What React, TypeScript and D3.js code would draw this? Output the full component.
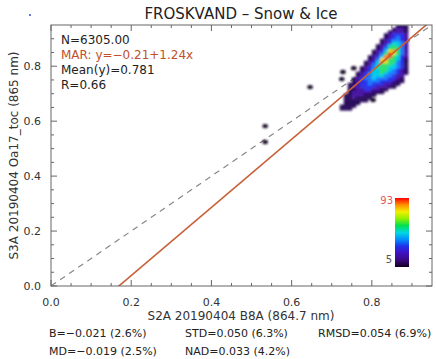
import React from "react";
import * as d3 from "d3";

// ---- data ----
const titleText = "FROSKVAND – Snow & Ice";
const xTitle = "S2A 20190404 B8A (864.7 nm)";
const yTitle = "S3A 20190404 Oa17_toc (865 nm)";
const axisMax = 0.95;
const majorTicks = [0, 0.2, 0.4, 0.6, 0.8];
const majorTickLabels = ["0.0", "0.2", "0.4", "0.6", "0.8"];
const minorTicks = [0.05, 0.1, 0.15, 0.25, 0.3, 0.35, 0.45, 0.5, 0.55, 0.65, 0.7, 0.75, 0.85, 0.9];

const infoLines = ["N=6305.00", "MAR: y=−0.21+1.24x", "Mean(y)=0.781", "R=0.66"];
const marIntercept = -0.21;
const marSlope = 1.24;

const statsRow1 = ["B=−0.021 (2.6%)", "STD=0.050 (6.3%)", "RMSD=0.054 (6.9%)"];
const statsRow2 = ["MD=−0.019 (2.5%)", "NAD=0.033 (4.2%)"];

const colorbarMin = 5;
const colorbarMax = 93;

// density grid: bins of 0.01, first column starts at x=0.71, first row tops at y=0.95
const densityX0 = 0.71;
const densityYTop = 0.95;
const densityBin = 0.01;
const densityRows = [
  "0000000000000001110",
  "0000000000000012210",
  "0000000000000122210",
  "0000000000001233320",
  "0000000000001234320",
  "0000000000012344320",
  "0000000000012355420",
  "0000000000123565420",
  "0000000000124666420",
  "0000000001235786420",
  "0000000001246976420",
  "0000000012358965320",
  "0000000012478665310",
  "0000000123587664310",
  "0000000124566654310",
  "0000001234666554310",
  "0000001235566543210",
  "0000012345565443210",
  "0000012345554432200",
  "0000123445444332100",
  "0000123344433321100",
  "0001123343332211000",
  "0001223333222110000",
  "0001122332211000000",
  "0001222221110000000",
  "0011222111000000000",
  "0011211110000000000",
  "0011111100000000000",
  "0011110000000000000",
  "0111100000000000000",
  "0111000000000000000",
];

const outlierX = [0.728, 0.725, 0.755, 0.646, 0.534, 0.534, 0.803];
const outlierY = [0.779, 0.753, 0.793, 0.724, 0.582, 0.524, 0.677];

const levelColors = [
  "none",
  "#2a0a5c",
  "#4a12a6",
  "#2a30e8",
  "#1c7cff",
  "#00cce6",
  "#2ee070",
  "#e6e400",
  "#ff8a00",
  "#ff2000",
];

const colorbarStops = [
  "#12001e",
  "#3a0a80",
  "#4010c0",
  "#2030e8",
  "#0090ff",
  "#00d8e0",
  "#00e050",
  "#90f000",
  "#f0f000",
  "#ff9000",
  "#ff0000",
];

export default function App() {
  const W = 436;
  const H = 359;
  const left = 51, right = 432, top = 25, bottom = 286;
  const x = d3.scaleLinear().domain([0, axisMax]).range([left, right]);
  const y = d3.scaleLinear().domain([0, axisMax]).range([bottom, top]);
  const font = "DejaVu Sans, sans-serif";
  const frame = "#666";

  const cells: { cx: number; cy: number; lv: number }[] = [];
  densityRows.forEach((row, r) => {
    for (let c = 0; c < row.length; c++) {
      const lv = +row[c];
      if (lv > 0) cells.push({ cx: densityX0 + c * densityBin, cy: densityYTop - (r + 1) * densityBin, lv });
    }
  });
  const cw = x(densityBin) - x(0);
  const ch = y(0) - y(densityBin);

  const marLine = d3.line<number>().x((d) => x(d)).y((d) => y(marIntercept + marSlope * d));
  const oneLine = d3.line<number>().x((d) => x(d)).y((d) => y(d));

  const cbX = 395, cbY = 198, cbW = 14, cbH = 69;

  const majLen = 6, minLen = 3;

  return (
    <svg width={W} height={H} style={{ position: "absolute", left: 0, top: 0, background: "#fff" }} fontFamily={font}>
      <defs>
        <clipPath id="plotclip">
          <rect x={left} y={top} width={right - left} height={bottom - top} />
        </clipPath>
        <filter id="soft" x="-10%" y="-10%" width="120%" height="120%">
          <feGaussianBlur stdDeviation={0.8} />
        </filter>
        <linearGradient id="cbgrad" x1="0" y1="1" x2="0" y2="0">
          {colorbarStops.map((c, i) => (
            <stop key={i} offset={i / (colorbarStops.length - 1)} stopColor={c} />
          ))}
        </linearGradient>
      </defs>
      <rect width={W} height={H} fill="#fff" />
      <circle cx={30} cy={15} r={1} fill="#3a48c8" />
      <text x={241} y={19} textAnchor="middle" fontSize={15} fill="#222">{titleText}</text>

      <g clipPath="url(#plotclip)">
        <path d={oneLine([0, axisMax]) || ""} stroke="#888" strokeWidth={1.2} strokeDasharray="6,5" fill="none" />
        <g filter="url(#soft)">
          {cells.map((d, i) => (
            <rect key={i} x={x(d.cx)} y={y(d.cy + densityBin)} width={cw + 0.4} height={ch + 0.4} fill={levelColors[d.lv]} />
          ))}
          {outlierX.map((v, i) => (
            <ellipse key={i} cx={x(v)} cy={y(outlierY[i])} rx={2.8} ry={2.2} fill="#1a0828" />
          ))}
        </g>
        <path d={marLine([0, axisMax]) || ""} stroke="#c8603a" strokeWidth={1.6} fill="none" />
      </g>

      <rect x={left} y={top} width={right - left} height={bottom - top} fill="none" stroke={frame} strokeWidth={1} />
      {majorTicks.map((t, i) => (
        <g key={"maj" + i} stroke={frame} strokeWidth={1}>
          <line x1={x(t)} x2={x(t)} y1={bottom} y2={bottom - majLen} />
          <line x1={x(t)} x2={x(t)} y1={top} y2={top + majLen} />
          <line x1={left} x2={left + majLen} y1={y(t)} y2={y(t)} />
          <line x1={right} x2={right - majLen} y1={y(t)} y2={y(t)} />
        </g>
      ))}
      {minorTicks.map((t, i) => (
        <g key={"min" + i} stroke={frame} strokeWidth={1}>
          <line x1={x(t)} x2={x(t)} y1={bottom} y2={bottom - minLen} />
          <line x1={x(t)} x2={x(t)} y1={top} y2={top + minLen} />
          <line x1={left} x2={left + minLen} y1={y(t)} y2={y(t)} />
          <line x1={right} x2={right - minLen} y1={y(t)} y2={y(t)} />
        </g>
      ))}
      {majorTicks.map((t, i) => (
        <text key={"xl" + i} x={x(t)} y={306} textAnchor="middle" fontSize={11} fill="#333">{majorTickLabels[i]}</text>
      ))}
      {majorTicks.map((t, i) => (
        <text key={"yl" + i} x={41} y={y(t) + 4} textAnchor="end" fontSize={11} fill="#333">{majorTickLabels[i]}</text>
      ))}
      <text x={241} y={320} textAnchor="middle" fontSize={12} fill="#333">{xTitle}</text>
      <text transform={`translate(18,${(top + bottom) / 2}) rotate(-90)`} textAnchor="middle" fontSize={12} fill="#333">{yTitle}</text>

      {infoLines.map((s, i) => (
        <text key={"info" + i} x={61} y={44 + i * 15} fontSize={12} fill={i === 1 ? "#c0502c" : "#222"}>{s}</text>
      ))}

      <rect x={cbX} y={cbY} width={cbW} height={cbH} fill="url(#cbgrad)" />
      <text x={393} y={cbY + 6} textAnchor="end" fontSize={10} fill="#e05858">{colorbarMax}</text>
      <text x={392} y={cbY + cbH - 4} textAnchor="end" fontSize={10} fill="#555">{colorbarMin}</text>

      {statsRow1.map((s, i) => (
        <text key={"s1" + i} x={[49, 185, 318][i]} y={337} fontSize={11} fill="#222">{s}</text>
      ))}
      {statsRow2.map((s, i) => (
        <text key={"s2" + i} x={[49, 185][i]} y={355} fontSize={11} fill="#222">{s}</text>
      ))}
    </svg>
  );
}
